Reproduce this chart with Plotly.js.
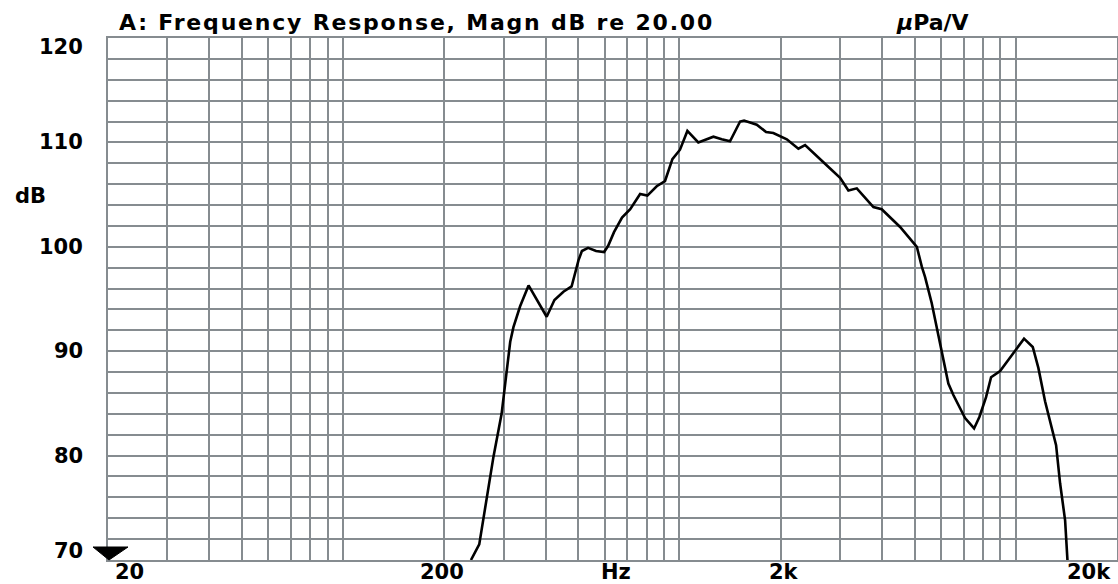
<!DOCTYPE html>
<html>
<head>
<meta charset="utf-8">
<script src="https://cdn.plot.ly/plotly-3.0.1.min.js"></script>
<style>
html,body{margin:0;padding:0;background:#fff;}
#chart{width:1118px;height:584px;}
text.annotation-text[data-unformatted^="A:"]{letter-spacing:1.8px;}
</style>
</head>
<body>
<div id="chart"></div>
<script>
// Frequency response data (Hz, dB)
var freqHz = [240, 254, 280, 296, 314, 321, 336, 356, 403, 425, 452, 478, 501, 513, 535, 565, 597, 614, 639, 675, 714, 743,
  764, 803, 856, 906, 953, 1004, 1056, 1138, 1262, 1336, 1414, 1515, 1557, 1698, 1810, 1902, 2086, 2258, 2364, 2680, 3004,
  3180, 3368, 3774, 3995, 4530, 5080, 5256, 5376, 5626, 5822, 6026, 6304, 6524, 7068, 7518, 7795, 8160, 8446, 8984, 9954,
  10584, 11234, 11674, 12222, 12650, 13180, 13546, 14020, 14246];
var magnDb = [70.0, 71.5, 79.9, 84.0, 90.9, 92.3, 94.3, 96.3, 93.3, 94.9, 95.7, 96.2, 98.7, 99.6, 99.9, 99.6, 99.5, 100.1, 101.4, 102.8, 103.6, 104.4,
  105.06, 104.9, 105.8, 106.3, 108.4, 109.3, 111.1, 110.0, 110.55, 110.3, 110.1, 112.0, 112.1, 111.7, 111.0, 110.9, 110.3, 109.4, 109.75, 108.1, 106.6,
  105.4, 105.6, 103.8, 103.6, 101.9, 100.0, 98.1, 97.1, 94.6, 92.35, 89.8, 86.9, 85.8, 83.6, 82.6, 83.7, 85.6, 87.5, 88.1, 90.1,
  91.2, 90.4, 88.4, 85.2, 83.25, 81.0, 77.35, 73.8, 70.0];

// Axis grid and tick labels
var xGridHz = [20,30,40,50,60,70,80,90,100,200,300,400,500,600,700,800,900,1000,2000,3000,4000,5000,6000,7000,8000,9000,10000,20000];
var yGridDb = [70,72,74,76,78,80,82,84,86,88,90,92,94,96,98,100,102,104,106,108,110,112,114,116,118,120];
var xTickVals = [20, 200, 2000, 20000];
var xTickText = ['20', '200', '2k', '20k'];
var yTickVals = [120, 110, 100, 90, 80, 70];
var yTickText = ['120', '110', '100', '90', '80', '70'];
var titleText = 'A: Frequency Response, Magn dB re 20.00';
var unitText = '<i>\u03bc</i>Pa/V';
var xUnit = 'Hz';
var yUnit = 'dB';

var gridCol = '#868c90';
var fontFam = 'DejaVu Sans, Liberation Sans, Arial, sans-serif';
var lblFont = {family: fontFam, size: 21, color: '#000', weight: 'bold'};
var titleFont = {family: fontFam, size: 22, color: '#000', weight: 'bold'};

var trace = {
  x: freqHz, y: magnDb, type: 'scatter', mode: 'lines',
  line: {color: '#000', width: 2.6}, hoverinfo: 'skip', cliponaxis: true
};

var annotations = [];
xTickVals.forEach(function(v, i){
  var a = {xref:'x', yref:'paper', x: Math.log10(v), y: 0, text: xTickText[i], showarrow:false,
           font: lblFont, xanchor:'center', yanchor:'middle', yshift:-12};
  if (i === 0) { a.xanchor = 'left'; a.xshift = 5; }
  else if (i === xTickVals.length - 1) { a.xanchor = 'right'; a.xshift = -4; }
  else if (i === 1) { a.xshift = -2; }
  else { a.xshift = 3; }
  annotations.push(a);
});
yTickVals.forEach(function(v, i){
  var a = {xref:'paper', yref:'y', x: 0, y: v, text: yTickText[i], showarrow:false,
           font: lblFont, xanchor:'right', yanchor:'middle', xshift:-23};
  if (i === 0) { a.yshift = -9; }
  else if (i === yTickVals.length - 1) { a.yshift = 9; }
  annotations.push(a);
});
annotations.push({xref:'paper', yref:'paper', x:0, y:0, text:xUnit, showarrow:false, font:lblFont,
  xanchor:'center', yanchor:'middle', xshift:508, yshift:-12});
annotations.push({xref:'paper', yref:'paper', x:0, y:1, text:yUnit, showarrow:false, font:lblFont,
  xanchor:'center', yanchor:'middle', xshift:-78, yshift:-158});
annotations.push({xref:'paper', yref:'paper', x:0, y:1, text:titleText, showarrow:false, font:titleFont,
  xanchor:'left', yanchor:'middle', xshift:9, yshift:16});
annotations.push({xref:'paper', yref:'paper', x:0, y:1, text:unitText, showarrow:false, font:titleFont,
  xanchor:'left', yanchor:'middle', xshift:786, yshift:16});

var layout = {
  width: 1118, height: 584,
  margin: {l:108, r:1, t:38, b:24, pad:0},
  paper_bgcolor:'#fff', plot_bgcolor:'#fff',
  showlegend:false,
  xaxis: {type:'log', range:[Math.log10(20), Math.log10(20000)], tickmode:'array', tickvals:xGridHz,
          showticklabels:false, ticks:'', showgrid:true, gridcolor:gridCol, gridwidth:2,
          showline:true, mirror:true, linecolor:gridCol, linewidth:2, zeroline:false, fixedrange:true},
  yaxis: {range:[70,120], tickmode:'array', tickvals:yGridDb, showticklabels:false, ticks:'',
          showgrid:true, gridcolor:gridCol, gridwidth:2,
          showline:true, mirror:true, linecolor:gridCol, linewidth:2, zeroline:false, fixedrange:true},
  annotations: annotations,
  shapes: [{type:'path', xref:'paper', yref:'paper', xsizemode:'pixel', ysizemode:'pixel', xanchor:0, yanchor:0,
            path:'M -15 13 L 20 13 L 1 0 Z', fillcolor:'#000', line:{color:'#000', width:1}, layer:'above'}]
};

Plotly.newPlot('chart', [trace], layout, {displayModeBar:false, staticPlot:true});
</script>
</body>
</html>
